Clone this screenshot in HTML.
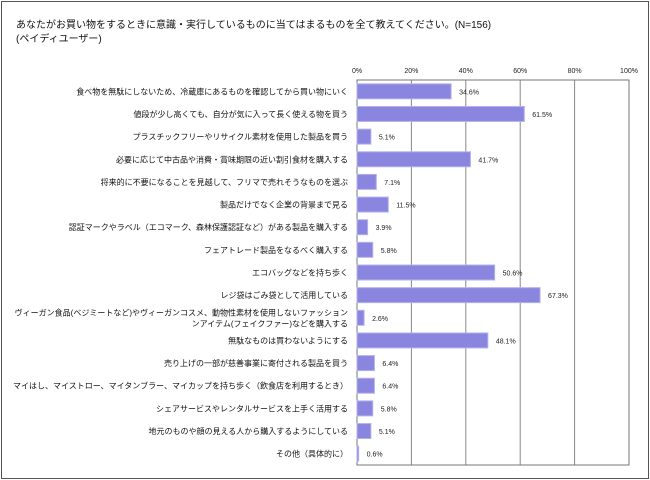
<!DOCTYPE html>
<html><head><meta charset="utf-8"><style>
body{margin:0;background:#fff;}
#frame{position:absolute;left:1px;top:1px;width:646px;height:476px;border:1px solid #555;background:#fff;}
.t{position:absolute;font-family:"Liberation Sans","Noto Sans CJK JP",sans-serif;color:#111;white-space:nowrap;}
</style></head><body>
<div id="frame"></div>
<div class="t" style="left:16px;top:16px;font-size:10px;">あなたがお買い物をするときに意識・実行しているものに当てはまるものを全て教えてください。(N=156)</div>
<div class="t" style="left:16px;top:30px;font-size:10px;">(ペイディユーザー)</div>
<svg id="chart" width="650" height="480" style="position:absolute;left:0;top:0;"></svg>
<script>
const categories=["食べ物を無駄にしないため、冷蔵庫にあるものを確認してから買い物にいく","値段が少し高くても、自分が気に入って長く使える物を買う","プラスチックフリーやリサイクル素材を使用した製品を買う","必要に応じて中古品や消費・賞味期限の近い割引食材を購入する","将来的に不要になることを見越して、フリマで売れそうなものを選ぶ","製品だけでなく企業の背景まで見る","認証マークやラベル（エコマーク、森林保護認証など）がある製品を購入する","フェアトレード製品をなるべく購入する","エコバッグなどを持ち歩く","レジ袋はごみ袋として活用している","ヴィーガン食品(ベジミートなど)やヴィーガンコスメ、動物性素材を使用しないファッション|ンアイテム(フェイクファー)などを購入する","無駄なものは買わないようにする","売り上げの一部が慈善事業に寄付される製品を買う","マイはし、マイストロー、マイタンブラー、マイカップを持ち歩く（飲食店を利用するとき）","シェアサービスやレンタルサービスを上手く活用する","地元のものや顔の見える人から購入するようにしている","その他（具体的に）"];
const values=[34.6,61.5,5.1,41.7,7.1,11.5,3.9,5.8,50.6,67.3,2.6,48.1,6.4,6.4,5.8,5.1,0.6];
const tickLabels=["0%","20%","40%","60%","80%","100%"];
const tickValues=[0,20,40,60,80,100];
</script>
<script>
const svg=document.getElementById('chart');
const NS='http://www.w3.org/2000/svg';
const X0=357,X1=629,Y0=80,Y1=465;
const n=categories.length;
const rowH=(Y1-Y0)/n;
const x=v=>X0+(X1-X0)*v/100;
const yc=i=>Y0+rowH*(i+0.5);
function mk(t,a){const e=document.createElementNS(NS,t);for(const k in a)e.setAttribute(k,a[k]);svg.appendChild(e);return e;}
tickValues.forEach((v,i)=>{
  if(v>0){const g=mk('line',{x1:x(v),x2:x(v),y1:Y0,y2:Y1,stroke:'#888','stroke-width':1});
  
  }
  const t=mk('text',{x:x(v),y:73,'font-size':7,'text-anchor':'middle','font-family':'Liberation Sans, sans-serif',fill:'#222'});
  t.textContent=tickLabels[i];
  
  
});
const r=mk('rect',{x:X0,y:Y0,width:X1-X0,height:Y1-Y0,fill:'none',stroke:'#777','stroke-width':1});


values.forEach((v,i)=>{
  const cy=yc(i);
  const b=mk('rect',{x:X0,y:cy-7.5,width:Math.max(x(v)-X0,1),height:15,fill:'#8a86df',stroke:'#b4b1ee','stroke-width':1});
  
  
  const t=mk('text',{x:x(v)+8,y:cy+3,'font-size':7,'font-family':'Liberation Sans, sans-serif',fill:'#222'});
  t.textContent=v.toFixed(1)+'%';
  
  
  const lines=categories[i].split('|');
  lines.forEach((ln,j)=>{
    const c=mk('text',{x:348,y:cy+3+(j-(lines.length-1)/2)*11,'font-size':8,'text-anchor':'end','font-family':'Liberation Sans, Noto Sans CJK JP, sans-serif',fill:'#111'});
    c.textContent=ln;
    
    
  });
});
</script>
</body></html>
